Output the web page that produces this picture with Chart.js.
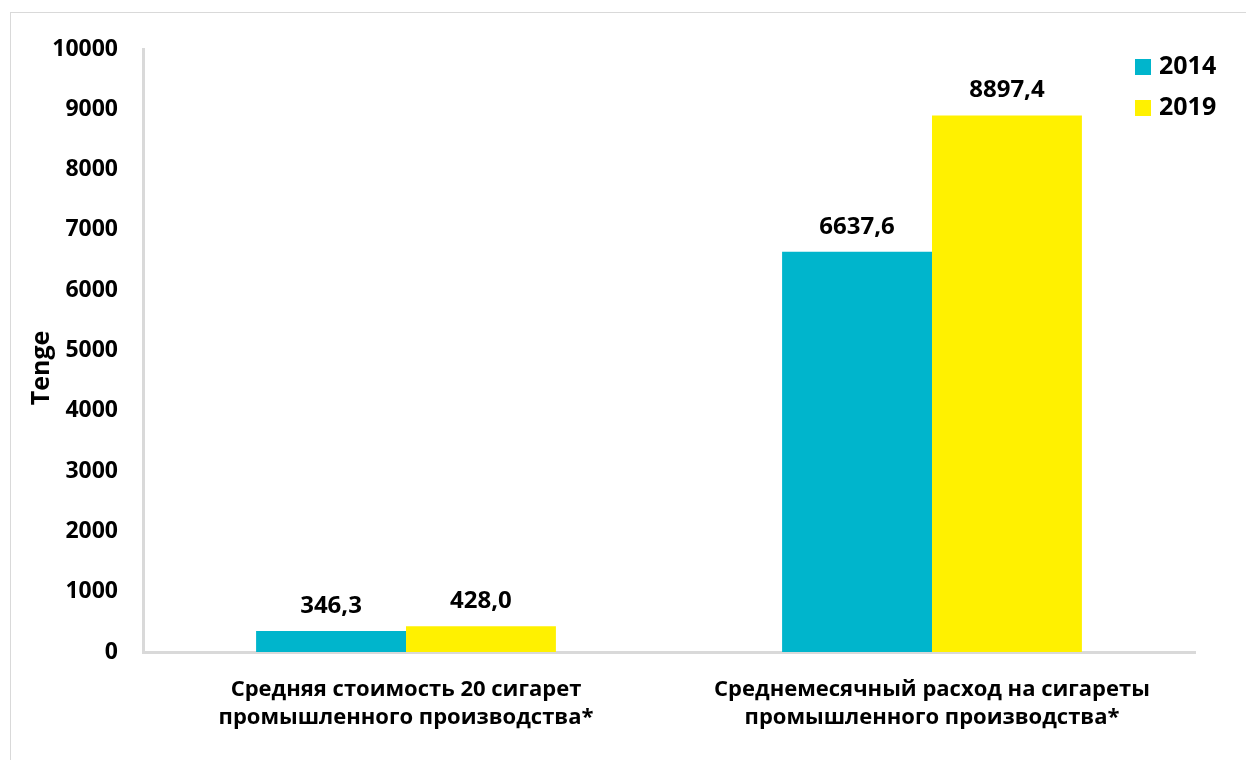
<!DOCTYPE html>
<html>
<head>
<meta charset="utf-8">
<script src="https://cdn.jsdelivr.net/npm/chart.js@4/dist/chart.umd.min.js"></script>
<style>
  html, body { margin: 0; padding: 0; background: #fff; }
  #wrap { position: relative; width: 1246px; height: 760px; overflow: hidden; }
  #frame { position: absolute; left: 10px; top: 12px; width: 1300px; height: 800px;
           border-left: 1px solid #d9d9d9; border-top: 1px solid #d9d9d9; }
  canvas { position: absolute; left: 0; top: 0; }
</style>
</head>
<body>
<div id="wrap">
  <div id="frame"></div>
  <canvas id="myBarChart" width="1246" height="760"></canvas>
</div>
<script>
// Категории и значения
const categories = [
    ['Средняя стоимость 20 сигарет', 'промышленного производства*'],
    ['Среднемесячный расход на сигареты', 'промышленного производства*']
];
const years = ['2014', '2019'];
const values2014 = [346.3, 6637.6];
const values2019 = [428.0, 8897.4];
const yTicks = [0, 1000, 2000, 3000, 4000, 5000, 6000, 7000, 8000, 9000, 10000];
const yTitle = 'Tenge';

const FONT = '"Open Sans", sans-serif';

// Подписи значений над столбцами
const valueLabels = {
    id: 'valueLabels',
    afterDatasetsDraw(chart) {
        const ctx = chart.ctx;
        ctx.save();
        ctx.font = 'bold 24px ' + FONT;
        ctx.fillStyle = '#000';
        ctx.textAlign = 'center';
        ctx.textBaseline = 'bottom';
        chart.data.datasets.forEach((ds, i) => {
            chart.getDatasetMeta(i).data.forEach((bar, j) => {
                const txt = ds.data[j].toFixed(1).replace('.', ',');
                ctx.fillText(txt, bar.x, bar.y - 13);
            });
        });
        ctx.restore();
    }
};

// Подпись оси Y (чуть ниже центра оси)
const axisTitle = {
    id: 'axisTitle',
    afterDraw(chart) {
        const ctx = chart.ctx;
        ctx.save();
        ctx.translate(42, 368);
        ctx.rotate(-Math.PI / 2);
        ctx.font = 'bold 25px ' + FONT;
        ctx.fillStyle = '#000';
        ctx.textAlign = 'center';
        ctx.textBaseline = 'middle';
        ctx.fillText(yTitle, 0, 0);
        ctx.restore();
    }
};

// Легенда внутри области графика, справа сверху
const cornerLegend = {
    id: 'cornerLegend',
    afterDraw(chart) {
        const ctx = chart.ctx;
        ctx.save();
        ctx.font = 'bold 25px ' + FONT;
        ctx.textBaseline = 'middle';
        ctx.textAlign = 'left';
        chart.data.datasets.forEach((ds, i) => {
            const y = 67 + i * 41;
            ctx.fillStyle = ds.backgroundColor;
            ctx.fillRect(1135, y - 8, 16, 16);
            ctx.fillStyle = '#000';
            ctx.fillText(ds.label, 1159, y);
        });
        ctx.restore();
    }
};

window.onload = function() {
    const ctx = document.getElementById('myBarChart').getContext('2d');
    new Chart(ctx, {
        type: 'bar',
        data: {
            labels: categories,
            datasets: [
                { label: years[0], data: values2014, backgroundColor: '#00B5CC' },
                { label: years[1], data: values2019, backgroundColor: '#FFF100' }
            ]
        },
        options: {
            responsive: false,
            animation: false,
            layout: { padding: { top: 49, right: 51, bottom: 0, left: 30 } },
            datasets: { bar: { categoryPercentage: 0.57, barPercentage: 1.0 } },
            plugins: { legend: { display: false }, tooltip: { enabled: false } },
            scales: {
                x: {
                    grid: { display: false, drawTicks: false },
                    border: { color: '#d9d9d9', width: 3 },
                    ticks: { color: '#000', font: { family: FONT, size: 22, weight: 'bold', lineHeight: 1.3 }, padding: 23, maxRotation: 0 },
                    afterFit(scale) { scale.height = 108; }
                },
                y: {
                    min: 0,
                    max: 10000,
                    afterBuildTicks(scale) { scale.ticks = yTicks.map(v => ({ value: v })); },
                    grid: { display: false, drawTicks: false },
                    border: { color: '#d9d9d9', width: 3 },
                    ticks: { color: '#000', font: { family: FONT, size: 23, weight: 'bold' }, padding: 25,
                             callback: (v) => String(v) },
                    afterFit(scale) { scale.width = 113; }
                }
            }
        },
        plugins: [valueLabels, axisTitle, cornerLegend]
    });
};
</script>
</body>
</html>
